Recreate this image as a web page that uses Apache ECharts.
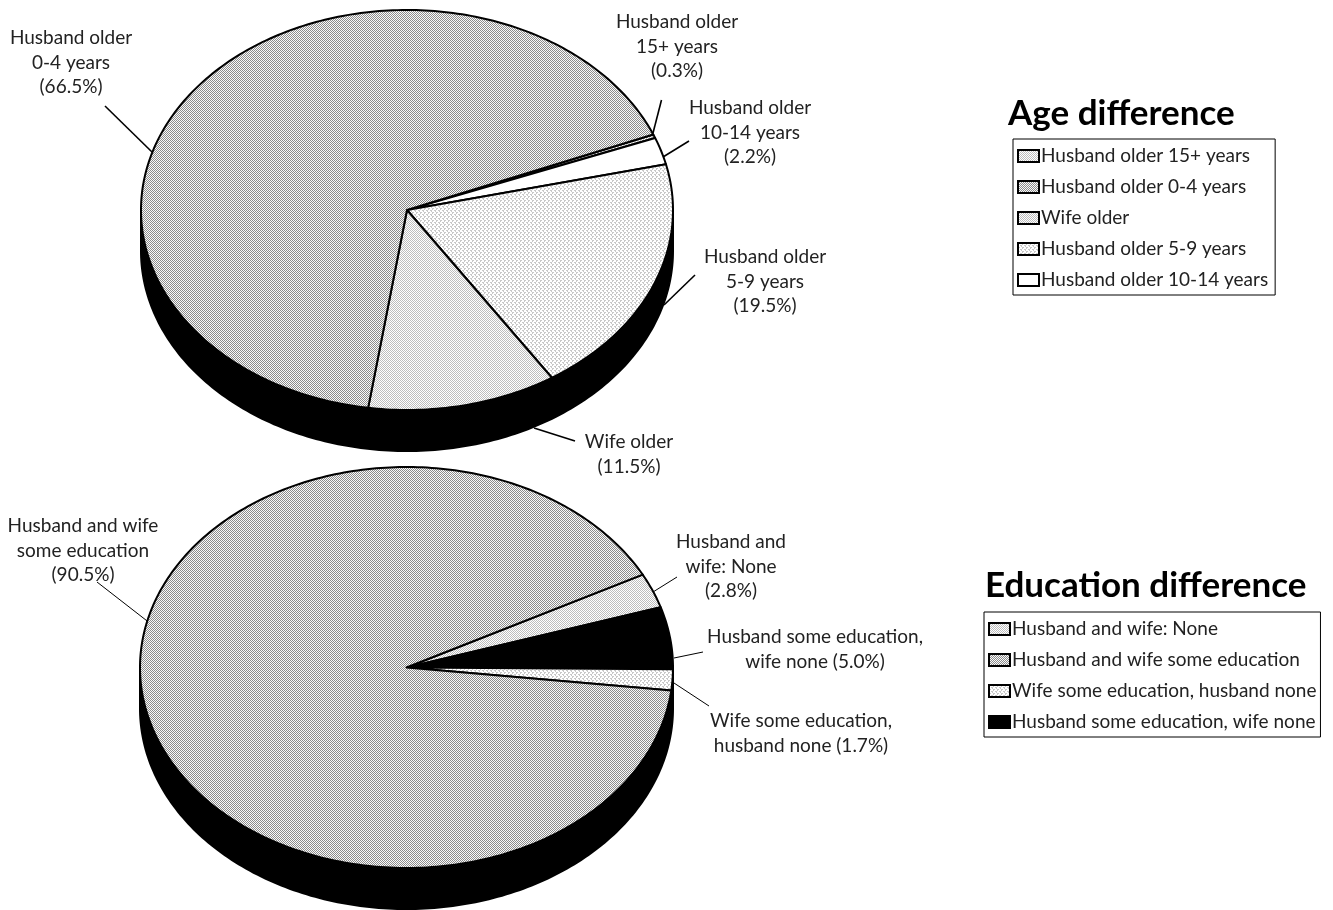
<!DOCTYPE html>
<html>
<head>
<meta charset="utf-8">
<style>html,body{margin:0;padding:0;background:#fff}#chart{width:1333px;height:910px}</style>
<script src="https://cdn.jsdelivr.net/npm/echarts@6/dist/echarts.min.js"></script>
</head>
<body>
<div id="chart"></div>
<script>
// Slices run clockwise, starting from the angle given for each pie.
const ageCategories = ['Husband older 15+ years', 'Husband older 10-14 years', 'Husband older 5-9 years', 'Wife older', 'Husband older 0-4 years'];
const ageValues = [0.3, 2.2, 19.5, 11.5, 66.5];
const ageLegendOrder = ['Husband older 15+ years', 'Husband older 0-4 years', 'Wife older', 'Husband older 5-9 years', 'Husband older 10-14 years'];
const ageLabelText = ['Husband older\n15+ years', 'Husband older\n10-14 years', 'Husband older\n5-9 years', 'Wife older', 'Husband older\n0-4 years'];

const eduCategories = ['Husband and wife: None', 'Husband some education, wife none', 'Wife some education, husband none', 'Husband and wife some education'];
const eduValues = [2.8, 5.0, 1.7, 90.5];
const eduLegendOrder = ['Husband and wife: None', 'Husband and wife some education', 'Wife some education, husband none', 'Husband some education, wife none'];
const eduLabelText = ['Husband and\nwife: None', 'Husband some education,\nwife none', 'Wife some education,\nhusband none', 'Husband and wife\nsome education'];

const FONT = 'Lato';

// Small repeating dot screens used as slice fills.
function screen(rows, dark, light) {
  const c = document.createElement('canvas');
  c.height = rows.length; c.width = rows[0].length;
  const g = c.getContext('2d');
  rows.forEach((r, y) => [...r].forEach((ch, x) => {
    g.fillStyle = ch === '#' ? dark : light;
    g.fillRect(x, y, 1, 1);
  }));
  return { image: c, repeat: 'repeat' };
}
const fillMedium = screen(['#.#.', '.#.#', '#.#.', '.#.#'], '#8c8c8c', '#fafafa');
const fillLight = screen(['#.#.', '.#.#', '#.#.', '.#.#'], '#bdbdbd', '#ffffff');
const fillPale = screen(['##..', '#...', '..##', '...#'], '#c8c8c8', '#ffffff');

const agePie = { cx: 407, cy: 210, rx: 266, ry: 200, depth: 41, start: -22.2 };
const eduPie = { cx: 406.5, cy: 667.5, rx: 266.5, ry: 200.5, depth: 41, start: -27.6 };

const ageFills = [fillLight, '#ffffff', fillPale, fillLight, fillMedium];
const eduFills = [fillLight, '#000000', fillPale, fillMedium];

// A point on the tilted rim; angles are measured on the flat disc.
function rim(p, deg, dy) {
  const t = deg * Math.PI / 180;
  return [p.cx + p.rx * Math.cos(t), p.cy + p.ry * Math.sin(t) + (dy || 0)];
}

function sliceSeries(pie, names, values, fills) {
  let angle = pie.start;
  return names.map((name, i) => {
    const a0 = angle, a1 = angle + values[i] * 3.6;
    angle = a1;
    return {
      type: 'custom', name, coordinateSystem: 'none', silent: true, z: 3,
      data: [[a0, a1]],
      renderItem(params, api) {
        const from = api.value(0), to = api.value(1), pts = [[pie.cx, pie.cy]];
        const steps = Math.max(2, Math.ceil(to - from));
        for (let k = 0; k <= steps; k++) pts.push(rim(pie, from + (to - from) * k / steps));
        return { type: 'polygon', shape: { points: pts }, style: { fill: fills[i], stroke: '#000', lineWidth: 2, lineJoin: 'round' } };
      }
    };
  });
}

// The black cylinder wall showing below the front half of the disc.
function wallSeries(pie) {
  return {
    type: 'custom', coordinateSystem: 'none', silent: true, z: 2,
    data: [[0, 180]],
    renderItem(params, api) {
      const pts = [];
      for (let d = api.value(0); d <= api.value(1); d += 1) pts.push(rim(pie, d, pie.depth));
      for (let d = api.value(1); d >= api.value(0); d -= 1) pts.push(rim(pie, d, 0));
      return { type: 'polygon', shape: { points: pts }, style: { fill: '#000', stroke: '#000', lineWidth: 2 } };
    }
  };
}

function label(text, value, x, y) {
  const body = text.endsWith('wife none') || text.endsWith('husband none')
    ? `${text} (${value.toFixed(1)}%)` : `${text}\n(${value.toFixed(1)}%)`;
  return {
    type: 'text', x, y, z: 10, silent: true,
    style: { text: body, font: `19px ${FONT}`, fill: '#222', align: 'center', verticalAlign: 'top', lineHeight: 24.5 }
  };
}
function leader(x1, y1, x2, y2, w) {
  return { type: 'line', z: 1, silent: true, shape: { x1, y1, x2, y2 }, style: { stroke: '#000', lineWidth: w } };
}

function legend(left, top, rightPad, names, categories, fills) {
  return {
    left, top, orient: 'vertical', icon: 'rect', selectedMode: false,
    padding: [6, rightPad, 4, 4], itemWidth: 21, itemHeight: 12, itemGap: 9,
    borderColor: '#000', borderWidth: 1, backgroundColor: '#fff',
    textStyle: { fontFamily: FONT, fontSize: 19, color: '#222', lineHeight: 22, padding: [0, 0, 0, -3] },
    data: names.map(name => ({
      name,
      itemStyle: { color: fills[categories.indexOf(name)], borderColor: '#000', borderWidth: 2 }
    }))
  };
}

const chart = echarts.init(document.getElementById('chart'), null, { renderer: 'canvas' });
chart.setOption({
  backgroundColor: '#fff',
  animation: false,
  title: [
    { text: 'Age difference', left: 1008, top: 96, padding: 0, textStyle: { fontFamily: FONT, fontSize: 35, fontWeight: 'bold', color: '#000' } },
    { text: 'Education difference', left: 985, top: 568, padding: 0, textStyle: { fontFamily: FONT, fontSize: 35, fontWeight: 'bold', color: '#000' } }
  ],
  legend: [
    legend(1013, 139, 7, ageLegendOrder, ageCategories, ageFills),
    legend(984, 612, 4, eduLegendOrder, eduCategories, eduFills)
  ],
  series: [
    wallSeries(agePie),
    wallSeries(eduPie),
    ...sliceSeries(agePie, ageCategories, ageValues, ageFills),
    ...sliceSeries(eduPie, eduCategories, eduValues, eduFills)
  ],
  graphic: { elements: [
    leader(661.5, 100, 653, 133, 1.6),
    leader(689, 141, 663, 157, 1.6),
    leader(695, 275, 664, 305, 1.6),
    leader(534, 428, 575, 441, 1.6),
    leader(105, 106, 152, 152, 1.6),
    leader(677, 577, 653, 592, 1),
    leader(703, 652, 674, 658, 1),
    leader(709, 706, 674, 683, 1),
    leader(97, 582, 151, 624, 1),
    label(ageLabelText[0], ageValues[0], 677, 10),
    label(ageLabelText[1], ageValues[1], 750, 96),
    label(ageLabelText[2], ageValues[2], 765, 245),
    label(ageLabelText[3], ageValues[3], 629, 430),
    label(ageLabelText[4], ageValues[4], 71, 26),
    label(eduLabelText[0], eduValues[0], 731, 530),
    label(eduLabelText[1], eduValues[1], 815, 625),
    label(eduLabelText[2], eduValues[2], 801, 709),
    label(eduLabelText[3], eduValues[3], 83, 514)
  ] }
});
</script>
</body>
</html>
